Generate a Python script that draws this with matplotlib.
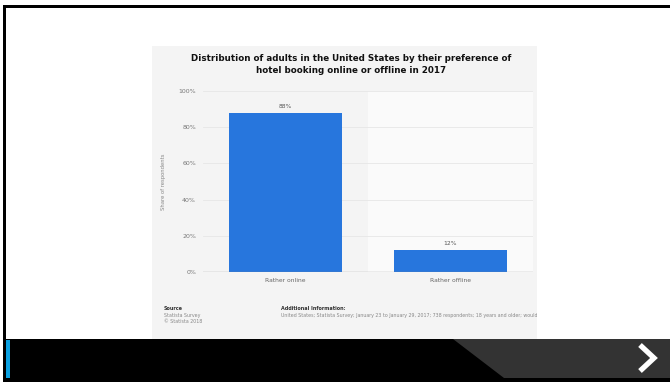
import matplotlib.pyplot as plt
from matplotlib.patches import Rectangle, Polygon

# data
categories = ['Rather online', 'Rather offline']
shares = [88, 12]
yticks = [0, 20, 40, 60, 80, 100]
title = ('Distribution of adults in the United States by their preference of\n'
         'hotel booking online or offline in 2017')
additional = ('United States; Statista Survey; January 23 to January 29, 2017; '
              '738 respondents; 18 years and older; would')

W, H = 670, 382
fig = plt.figure(figsize=(W / 100, H / 100), dpi=100)
fig.patch.set_facecolor('white')


def frac(x0, y0, x1, y1):
    # pixel box (top-left origin) -> figure fraction
    return [x0 / W, 1 - y1 / H, (x1 - x0) / W, (y1 - y0) / H]


# slide background
bg = fig.add_axes([0, 0, 1, 1])
bg.set_xlim(0, W)
bg.set_ylim(H, 0)
bg.axis('off')
bg.add_patch(Rectangle((3, 5), W - 3, 3, color='black', lw=0))
bg.add_patch(Rectangle((3, 5), 3, 336, color='black', lw=0))
bg.add_patch(Rectangle((152, 46), 385, 294, color='#f4f4f4', lw=0))
bg.add_patch(Rectangle((3, 339), W - 3, 43, color='black', lw=0))
bg.add_patch(Polygon([(453, 339), (W, 339), (W, 378), (504, 378)],
                     closed=True, color='#333333', lw=0))
bg.add_patch(Rectangle((6, 340), 3.5, 38, color='#0aa0e0', lw=0))
bg.plot([640, 654, 640], [345, 358, 371], color='white', lw=3.8,
        solid_joinstyle='miter', solid_capstyle='butt')

bg.text(351, 64.5, title, ha='center', va='center', fontsize=6.3,
        fontweight='bold', color='#111111', linespacing=1.5)

# footer
ft = fig.add_axes(frac(152, 300, 537, 330))
ft.set_xlim(152, 537)
ft.set_ylim(330, 300)
ft.axis('off')
ft.text(164, 309, 'Source', fontsize=3.5, fontweight='bold', color='#333333',
        va='center')
ft.text(164, 315.5, 'Statista Survey', fontsize=3.4, color='#888888', va='center')
ft.text(164, 321.5, '\u00a9 Statista 2018', fontsize=3.4, color='#888888',
        va='center')
ft.text(281, 309, 'Additional Information:', fontsize=3.5, fontweight='bold',
        color='#333333', va='center')
ft.text(281, 315.5, additional, fontsize=3.45, color='#888888', va='center',
        clip_on=True)

# chart
ax = fig.add_axes(frac(203, 91, 533, 272))
ax.set_facecolor('none')
x = list(range(len(categories)))
ax.axvspan(0.5, 1.5, color='#fafafa', lw=0, zorder=0)
for t in yticks[1:]:
    ax.axhline(t, color='#e6e6e6', lw=0.6, zorder=1)
ax.axhline(0, color='#888888', lw=0.9, zorder=3)
bars = ax.bar(x, shares, width=0.68, color='#2776dd', zorder=2)
for xi, v in zip(x, shares):
    ax.annotate(f'{v}%', (xi, v), xytext=(0, 3), textcoords='offset points',
                ha='center', va='bottom', fontsize=4.3, color='#555555')
ax.set_xlim(-0.5, 1.5)
ax.set_ylim(0, 100)
ax.set_yticks(yticks)
ax.set_yticklabels([f'{t}%' for t in yticks])
ax.set_xticks(x)
ax.set_xticklabels(categories)
ax.tick_params(axis='y', length=0, pad=5, labelsize=4.5, labelcolor='#777777')
ax.tick_params(axis='x', length=0, pad=4, labelsize=4.3, labelcolor='#666666')
for s in ax.spines.values():
    s.set_visible(False)
ax.set_ylabel('Share of respondents', fontsize=3.8, color='#888888', labelpad=9)

fig.savefig('out.png', dpi=100)
